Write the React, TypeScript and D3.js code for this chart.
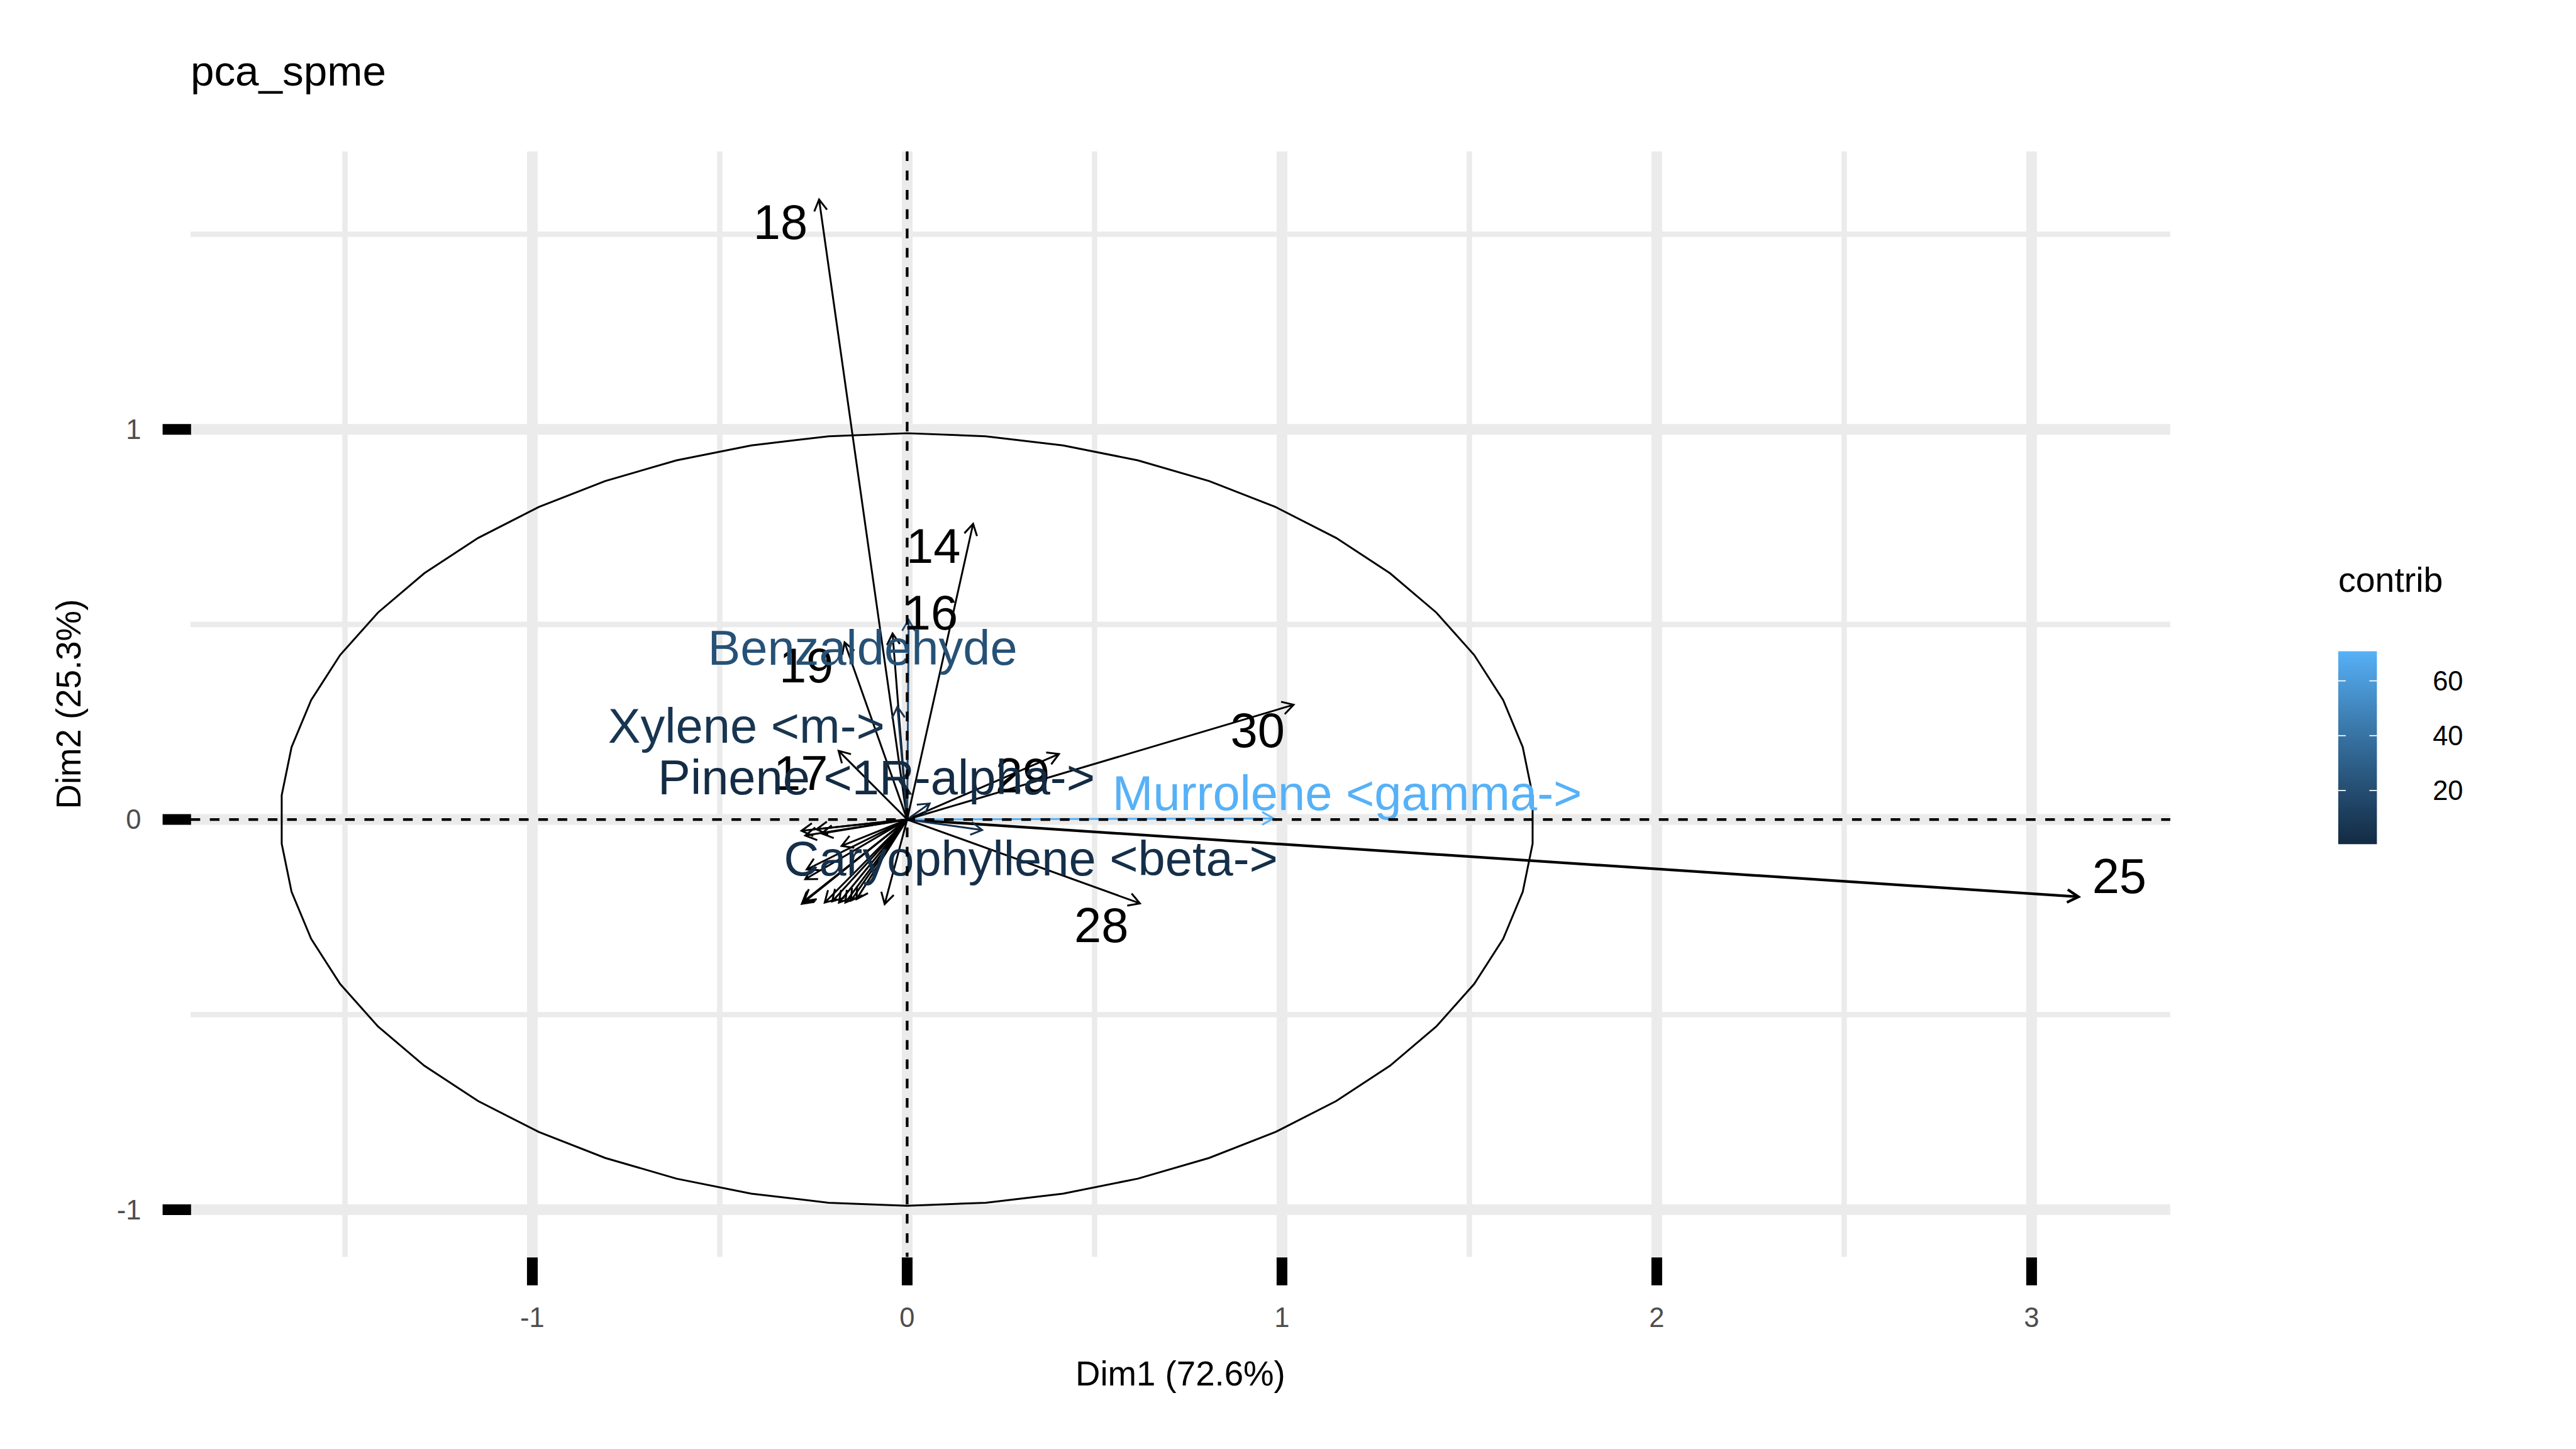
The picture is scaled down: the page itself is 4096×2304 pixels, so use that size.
import * as d3 from "d3";

// reference canvas, drawn at 4096x2304 through the viewBox
const W = 4800;
const H = 2700;

// observation arrows that carry a number label
const obsIds = ["18", "14", "16", "19", "17", "29", "30", "25", "28"];
const obsDim1 = [-0.235, 0.176, -0.039, -0.167, -0.183, 0.405, 1.031, 3.125, 0.621];
const obsDim2 = [1.589, 0.758, 0.477, 0.454, 0.176, 0.168, 0.294, -0.198, -0.215];
const obsTextDim1 = [-0.338, 0.07, 0.063, -0.269, -0.284, 0.308, 0.935, 3.234, 0.518];
const obsTextDim2 = [1.532, 0.703, 0.532, 0.396, 0.12, 0.115, 0.231, -0.144, -0.27];

// the unlabeled bundle pointing down-left
const bundleDim1 = [
  -0.282, -0.272, -0.242, -0.228, -0.175, -0.268, -0.272, -0.278, -0.275, -0.281,
  -0.22, -0.2, -0.182, -0.165, -0.15, -0.135, -0.06,
];
const bundleDim2 = [
  -0.029, -0.041, -0.025, -0.036, -0.068, -0.128, -0.153, -0.213, -0.209, -0.216,
  -0.213, -0.21, -0.213, -0.213, -0.208, -0.204, -0.217,
];

// variables, coloured by contribution
const varNames = [
  "Benzaldehyde",
  "Xylene <m->",
  "Pinene <1R-alpha->",
  "Murrolene <gamma->",
  "Caryophyllene <beta->",
];
const varDim1 = [0.004, -0.026, 0.06, 0.977, 0.2];
const varDim2 = [0.512, 0.289, 0.041, 0.003, -0.027];
const varContrib = [22, 6.5, 0.4, 70.8, 3.0];
const varTextDim1 = [-0.119, -0.429, -0.082, 1.174, 0.33];
const varTextDim2 = [0.442, 0.241, 0.11, 0.069, -0.098];

const xMajor = [-1, 0, 1, 2, 3];
const xMinor = [-1.5, -0.5, 0.5, 1.5, 2.5];
const yMajor = [-1, 0, 1];
const yMinor = [-0.5, 0.5, 1.5];
const legendTicks = [20, 40, 60];

const ellipseRx = 1.672;
const ellipseRy = 0.99;

const FONT = "'Liberation Sans', Arial, Helvetica, sans-serif";

function arrowPath(x0: number, y0: number, x1: number, y1: number, len = 24) {
  const a = Math.atan2(y1 - y0, x1 - x0);
  const s = Math.PI / 6;
  const b1x = x1 - len * Math.cos(a - s);
  const b1y = y1 - len * Math.sin(a - s);
  const b2x = x1 - len * Math.cos(a + s);
  const b2y = y1 - len * Math.sin(a + s);
  return `M${x0},${y0}L${x1},${y1}M${b1x},${b1y}L${x1},${y1}L${b2x},${b2y}`;
}

export default function App() {
  const panel = { left: 355, right: 4044, top: 282, bottom: 2342 };
  const x = d3.scaleLinear([-1.912, 3.37], [panel.left, panel.right]);
  const y = d3.scaleLinear([-1.121, 1.7125], [panel.bottom, panel.top]);

  const contribExtent = d3.extent(varContrib) as [number, number];
  const color = d3
    .scaleLinear<string>()
    .domain(contribExtent)
    .range(["#132B43", "#56B1F7"])
    .interpolate(d3.interpolateLab);

  const legend = { x: 4357, w: 72, top: 1213.5, bottom: 1573 };
  const ly = d3.scaleLinear(contribExtent, [legend.bottom, legend.top]);

  const nSeg = 50;
  const ellipsePts = d3.range(nSeg).map((i) => {
    const t = ((i + 0.5) * 2 * Math.PI) / nSeg;
    return [x(ellipseRx * Math.cos(t)), y(ellipseRy * Math.sin(t))] as [number, number];
  });
  const ellipse = d3.line().curve(d3.curveLinearClosed)(ellipsePts) ?? "";

  const gradStops = d3.range(0, 1.0001, 0.1);
  const labelSize = 91;
  const lw = 3.5;

  return (
    <svg
      width={4096}
      height={2304}
      viewBox={`0 0 ${W} ${H}`}
      style={{ position: "fixed", left: 0, top: 0, background: "#fff" }}
      fontFamily={FONT}
    >
      <defs>
        <linearGradient id="contrib-grad" x1="0" y1="1" x2="0" y2="0">
          {gradStops.map((t) => (
            <stop
              key={t}
              offset={t}
              stopColor={color(contribExtent[0] + t * (contribExtent[1] - contribExtent[0]))}
            />
          ))}
        </linearGradient>
      </defs>
      <rect width={W} height={H} fill="#fff" />

      {/* grid */}
      {yMinor.map((v) => (
        <line key={`ym${v}`} x1={panel.left} x2={panel.right} y1={y(v)} y2={y(v)} stroke="#EBEBEB" strokeWidth={10} />
      ))}
      {xMinor.map((v) => (
        <line key={`xm${v}`} x1={x(v)} x2={x(v)} y1={panel.top} y2={panel.bottom} stroke="#EBEBEB" strokeWidth={10} />
      ))}
      {yMajor.map((v) => (
        <line key={`yM${v}`} x1={panel.left} x2={panel.right} y1={y(v)} y2={y(v)} stroke="#EBEBEB" strokeWidth={20} />
      ))}
      {xMajor.map((v) => (
        <line key={`xM${v}`} x1={x(v)} x2={x(v)} y1={panel.top} y2={panel.bottom} stroke="#EBEBEB" strokeWidth={20} />
      ))}

      {/* axis ticks */}
      {xMajor.map((v) => (
        <g key={`xt${v}`}>
          <line x1={x(v)} x2={x(v)} y1={panel.bottom + 1} y2={panel.bottom + 53} stroke="#000" strokeWidth={20} />
          <text x={x(v)} y={2473} textAnchor="middle" fontSize={51} fill="#4D4D4D">
            {v}
          </text>
        </g>
      ))}
      {yMajor.map((v) => (
        <g key={`yt${v}`}>
          <line x1={panel.left - 52} x2={panel.left + 1} y1={y(v)} y2={y(v)} stroke="#000" strokeWidth={20} />
          <text x={263} y={y(v) + 18} textAnchor="end" fontSize={51} fill="#4D4D4D">
            {v}
          </text>
        </g>
      ))}

      {/* correlation ellipse */}
      <path d={ellipse} fill="none" stroke="#000" strokeWidth={lw} />

      {/* observation arrows */}
      {bundleDim1.map((d1, i) => (
        <path
          key={`b${i}`}
          d={arrowPath(x(0), y(0), x(d1), y(bundleDim2[i]))}
          fill="none"
          stroke="#000"
          strokeWidth={lw}
          strokeLinejoin="miter"
        />
      ))}
      {obsIds.map((id, i) => (
        <path
          key={`o${id}`}
          d={arrowPath(x(0), y(0), x(obsDim1[i]), y(obsDim2[i]))}
          fill="none"
          stroke="#000"
          strokeWidth={id === "25" ? 5 : lw}
          strokeLinejoin="miter"
        />
      ))}

      {/* variable arrows */}
      {varNames.map((name, i) => (
        <path
          key={`v${name}`}
          d={arrowPath(x(0), y(0), x(varDim1[i]), y(varDim2[i]))}
          fill="none"
          stroke={color(varContrib[i])}
          strokeWidth={lw}
          strokeLinejoin="miter"
        />
      ))}

      {/* labels */}
      {obsIds.map((id, i) => (
        <text
          key={`ot${id}`}
          x={x(obsTextDim1[i])}
          y={y(obsTextDim2[i]) + 0.358 * labelSize}
          textAnchor="middle"
          fontSize={labelSize}
          fill="#000"
        >
          {id}
        </text>
      ))}
      {varNames.map((name, i) => (
        <text
          key={`vt${name}`}
          x={x(varTextDim1[i])}
          y={y(varTextDim2[i]) + 0.358 * labelSize}
          textAnchor="middle"
          fontSize={labelSize}
          fill={color(varContrib[i])}
        >
          {name}
        </text>
      ))}

      {/* reference lines at 0 */}
      <line x1={panel.left} x2={panel.right} y1={y(0)} y2={y(0)} stroke="#000" strokeWidth={5} strokeDasharray="18 18" />
      <line x1={x(0)} x2={x(0)} y1={panel.top} y2={panel.bottom} stroke="#000" strokeWidth={5} strokeDasharray="18 18" />

      {/* titles */}
      <text x={355} y={159} fontSize={79} fill="#000">
        pca_spme
      </text>
      <text x={(panel.left + panel.right) / 2} y={2582} textAnchor="middle" fontSize={64} fill="#000">
        Dim1 (72.6%)
      </text>
      <text
        x={150}
        y={(panel.top + panel.bottom) / 2}
        textAnchor="middle"
        fontSize={64}
        fill="#000"
        transform={`rotate(-90 150 ${(panel.top + panel.bottom) / 2})`}
      >
        Dim2 (25.3%)
      </text>

      {/* legend */}
      <text x={legend.x} y={1103} fontSize={65} fill="#000">
        contrib
      </text>
      <rect
        x={legend.x}
        y={legend.top}
        width={legend.w}
        height={legend.bottom - legend.top}
        fill="url(#contrib-grad)"
      />
      {legendTicks.map((t) => (
        <g key={`lt${t}`}>
          <line x1={legend.x} x2={legend.x + 14} y1={ly(t)} y2={ly(t)} stroke="#fff" strokeWidth={2} />
          <line x1={legend.x + legend.w - 14} x2={legend.x + legend.w} y1={ly(t)} y2={ly(t)} stroke="#fff" strokeWidth={2} />
          <text x={4533} y={ly(t) + 18} fontSize={51} fill="#000">
            {t}
          </text>
        </g>
      ))}
    </svg>
  );
}
